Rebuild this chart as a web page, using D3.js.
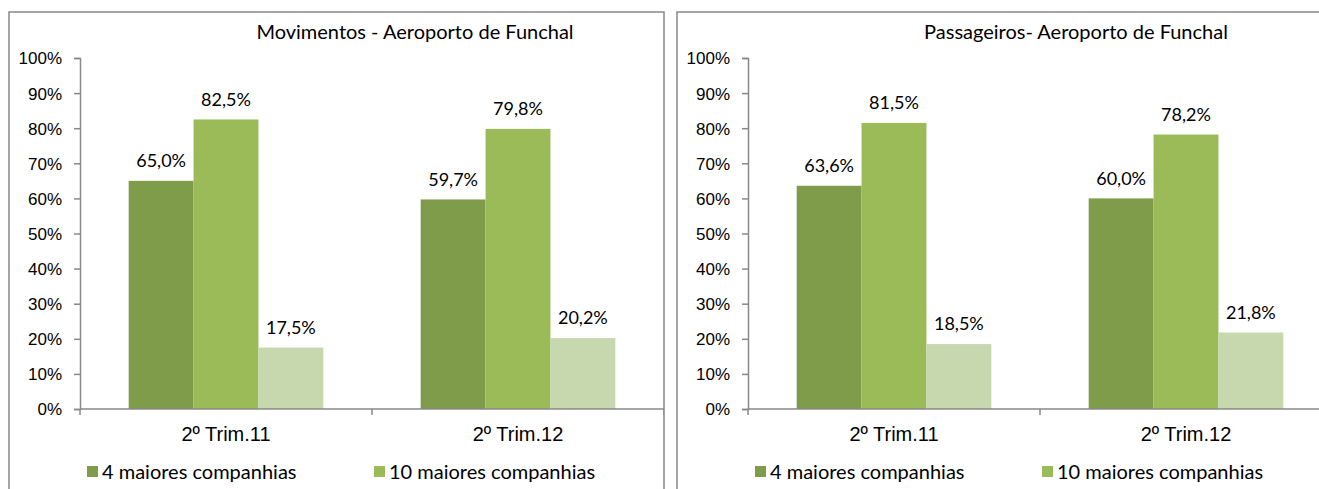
<!DOCTYPE html>
<html>
<head>
<meta charset="utf-8">
<script src="https://d3js.org/d3.v7.min.js"></script>
<style>
    body { margin: 0; background: #fff; }
    svg { display: block; font-family: Lato, "Open Sans", sans-serif; }
    .axis path, .axis line { stroke: #888; stroke-width: 1.5; fill: none; }
    .axis text { fill: #000; font-size: 17px; }
    .xlab text { font-size: 20px; }
</style>
</head>
<body>
<div id="chart"></div>
<script>
// data
var categories = ["2º Trim.11", "2º Trim.12"];
var seriesNames = ["4 maiores companhias", "10 maiores companhias"];
var seriesColors = ["#7F9C4A", "#9BBB59", "#C8D8AE"];
var yTicks = [0, 10, 20, 30, 40, 50, 60, 70, 80, 90, 100];

var movTop4 = [65.0, 59.7];
var movTop10 = [82.5, 79.8];
var movOthers = [17.5, 20.2];

var pasTop4 = [63.6, 60.0];
var pasTop10 = [81.5, 78.2];
var pasOthers = [18.5, 21.8];

var W = 1319, H = 489;

var svg = d3.select("#chart").append("svg")
    .attr("width", W)
    .attr("height", H);

var fmt = d3.format(".1f");
function pct(v) { return fmt(v).replace(".", ",") + "%"; }

function drawPanel(p) {
    var g = svg.append("g").attr("transform", "translate(" + p.left + "," + p.top + ")");

    // frame
    g.append("rect")
        .attr("x", 0).attr("y", 0)
        .attr("width", p.width).attr("height", 600)
        .attr("fill", "#fff")
        .attr("stroke", "#888")
        .attr("stroke-width", 1.5);

    var clipId = "clip" + p.id;
    g.append("clipPath").attr("id", clipId)
        .append("rect").attr("x", 0).attr("y", 0).attr("width", p.width).attr("height", 600);
    var inner = g.append("g").attr("clip-path", "url(#" + clipId + ")");

    var x0 = d3.scaleBand().domain(categories).range([71, 71 + 584]).paddingInner(0).paddingOuter(0);
    var x1 = d3.scaleBand().domain(d3.range(p.series.length)).range([0, x0.bandwidth()])
        .paddingInner(0).paddingOuter(0.75);
    var y = d3.scaleLinear().domain([0, 100]).range([397, 46]);

    // title
    inner.append("text")
        .attr("x", p.titleX).attr("y", 20)
        .attr("dy", "0.35em")
        .attr("text-anchor", "middle")
        .style("font-size", "20px")
        .text(p.title);

    // bars
    var groups = inner.selectAll(".grp").data(categories).enter().append("g")
        .attr("transform", function(d) { return "translate(" + x0(d) + ",0)"; });

    groups.each(function(cat, ci) {
        var grp = d3.select(this);
        p.series.forEach(function(s, si) {
            grp.append("rect")
                .attr("x", x1(si))
                .attr("y", y(s[ci]))
                .attr("width", x1.bandwidth())
                .attr("height", y(0) - y(s[ci]))
                .attr("fill", seriesColors[si]);
            grp.append("text")
                .attr("x", x1(si) + x1.bandwidth() / 2)
                .attr("y", y(s[ci]) - 20)
                .attr("dy", "0.35em")
                .attr("text-anchor", "middle")
                .style("font-size", "18px")
                .text(pct(s[ci]));
        });
    });

    // y axis
    var yAxis = d3.axisLeft(y)
        .tickValues(yTicks)
        .tickSize(6)
        .tickPadding(12)
        .tickFormat(function(d) { return d + "%"; });
    inner.append("g")
        .attr("class", "axis")
        .attr("transform", "translate(71,0)")
        .call(yAxis)
        .call(function(a) { a.selectAll("text").attr("dy", "0.35em"); });

    // x axis: labels, line and boundary ticks
    var xAxis = d3.axisBottom(x0).tickSize(0).tickPadding(18);
    var xa = inner.append("g")
        .attr("class", "axis xlab")
        .attr("transform", "translate(0," + y(0) + ")")
        .call(xAxis);
    xa.select(".domain").remove();
    xa.append("line")
        .attr("x1", x0.range()[0]).attr("x2", x0.range()[1])
        .attr("y1", 0).attr("y2", 0);
    var bounds = categories.map(function(c) { return x0(c); }).concat([x0.range()[1]]);
    xa.selectAll(".bnd").data(bounds).enter().append("line")
        .attr("x1", function(d) { return d; }).attr("x2", function(d) { return d; })
        .attr("y1", 0).attr("y2", 6);

    // legend
    var leg = inner.selectAll(".leg").data(seriesNames).enter().append("g")
        .attr("transform", function(d, i) { return "translate(" + (78 + i * 287) + ",454)"; });
    leg.append("rect")
        .attr("width", 11).attr("height", 11)
        .attr("fill", function(d, i) { return seriesColors[i]; });
    leg.append("text")
        .attr("x", 15).attr("y", 6)
        .attr("dy", "0.35em")
        .style("font-size", "20px")
        .text(function(d) { return d; });
}

drawPanel({
    id: 1, left: 9, top: 12, width: 655,
    title: "Movimentos - Aeroporto de Funchal", titleX: 406,
    series: [movTop4, movTop10, movOthers]
});

drawPanel({
    id: 2, left: 677, top: 12, width: 700,
    title: "Passageiros- Aeroporto de Funchal", titleX: 399,
    series: [pasTop4, pasTop10, pasOthers]
});
</script>
</body>
</html>
